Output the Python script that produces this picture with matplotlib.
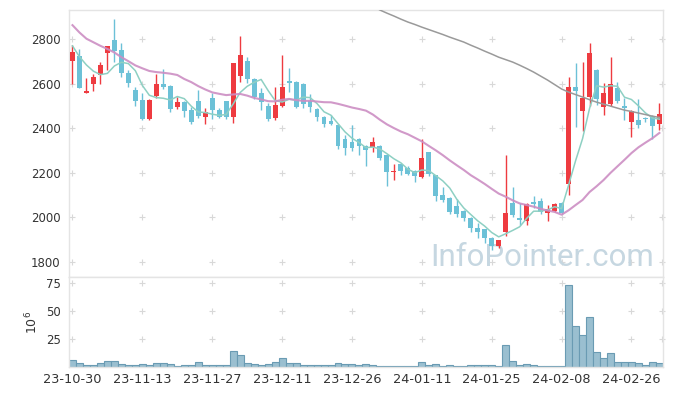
import matplotlib
matplotlib.use("Agg")
import matplotlib.pyplot as plt
import numpy as np
import pandas as pd

# daily candles, price in KRW
opens = [2704, 2725, 2560, 2599, 2640, 2737, 2797, 2752, 2647, 2572,
         2527, 2440, 2547, 2599, 2590, 2497, 2518, 2482, 2523, 2452,
         2538, 2482, 2523, 2452, 2636, 2702, 2622, 2557, 2500, 2445,
         2502, 2613, 2610, 2600, 2525, 2487, 2452, 2433, 2415, 2352,
         2340, 2352, 2322, 2315, 2320, 2280, 2202, 2238, 2223, 2208,
         2183, 2292, 2190, 2100, 2088, 2051, 2030, 1996, 1953, 1946,
         1908, 1872, 1935, 2066, 1998, 1985, 2070, 2075, 2018, 2030,
         2066, 2150, 2587, 2479, 2542, 2662, 2497, 2509, 2580, 2500,
         2430, 2437, 2445, 2455, 2419]
highs = [2774, 2755, 2627, 2643, 2699, 2772, 2890, 2783, 2662, 2584,
         2557, 2530, 2643, 2665, 2595, 2539, 2525, 2495, 2572, 2490,
         2557, 2490, 2523, 2695, 2816, 2722, 2625, 2580, 2512, 2587,
         2732, 2670, 2612, 2605, 2554, 2490, 2455, 2460, 2418, 2370,
         2415, 2355, 2325, 2362, 2325, 2283, 2238, 2242, 2230, 2212,
         2351, 2295, 2192, 2138, 2092, 2082, 2035, 2000, 1973, 1950,
         1912, 1900, 2280, 2135, 2066, 2066, 2096, 2085, 2055, 2065,
         2070, 2629, 2692, 2699, 2782, 2665, 2605, 2722, 2609, 2535,
         2482, 2530, 2450, 2458, 2515]
lows = [2600, 2582, 2557, 2568, 2600, 2662, 2698, 2633, 2584, 2500,
        2437, 2437, 2535, 2575, 2475, 2485, 2449, 2418, 2445, 2418,
        2442, 2445, 2442, 2423, 2607, 2602, 2532, 2482, 2433, 2437,
        2497, 2565, 2490, 2490, 2475, 2433, 2407, 2415, 2307, 2280,
        2298, 2280, 2232, 2295, 2258, 2141, 2168, 2190, 2190, 2157,
        2175, 2185, 2073, 2067, 2015, 2000, 1982, 1936, 1906, 1883,
        1853, 1862, 1916, 2000, 1966, 1966, 2043, 2015, 1985, 2025,
        2015, 2100, 2407, 2389, 2500, 2505, 2460, 2500, 2515, 2437,
        2360, 2400, 2428, 2351, 2392]
closes = [2742, 2582, 2568, 2632, 2684, 2770, 2749, 2651, 2602, 2524,
          2440, 2527, 2599, 2587, 2485, 2518, 2479, 2430, 2457, 2472,
          2481, 2452, 2452, 2692, 2729, 2620, 2542, 2517, 2442, 2505,
          2586, 2604, 2497, 2510, 2495, 2452, 2419, 2419, 2322, 2310,
          2310, 2322, 2302, 2337, 2265, 2205, 2208, 2210, 2195, 2187,
          2265, 2193, 2097, 2078, 2025, 2015, 1996, 1951, 1935, 1906,
          1872, 1898, 2021, 2010, 1988, 2060, 2060, 2022, 2037, 2060,
          2018, 2587, 2569, 2535, 2737, 2530, 2557, 2599, 2524, 2491,
          2478, 2415, 2440, 2410, 2464]
# volume, millions of shares
volumes = [6.5, 3.6, 1.8, 1.8, 3.6, 5.4, 5.4, 2.7, 1.8, 1.8,
           2.7, 1.8, 3.6, 3.6, 2.7, 0.6, 1.8, 1.8, 4.5, 1.8,
           1.8, 1.8, 1.8, 14.3, 10.7, 3.6, 2.7, 1.8, 2.7, 4.5,
           8.0, 3.6, 3.6, 1.8, 1.8, 1.8, 1.8, 1.8, 3.6, 2.7,
           2.7, 1.8, 2.7, 1.8, 0.9, 0.6, 0.6, 0.6, 0.6, 0.6,
           4.5, 1.8, 2.7, 0.6, 1.8, 0.6, 0.6, 1.8, 1.8, 1.8,
           1.8, 0.9, 19.6, 5.4, 1.8, 2.7, 1.8, 0.6, 0.6, 0.6,
           0.6, 72.6, 36.3, 28.6, 44.6, 13.7, 8.0, 12.5, 4.5, 4.5,
           4.5, 3.6, 1.8, 4.5, 3.6]

# moving averages before the window starts need earlier data ->
ma5_head = [2771, 2722, 2685, 2657]
ma20_head = [2864, 2831, 2803, 2787, 2771, 2757, 2741, 2720, 2702, 2683,
             2670, 2658, 2653, 2650, 2646, 2640, 2622, 2608, 2590]
ma120_start = 43
ma120_tail = [2950, 2932, 2918, 2905, 2891, 2878, 2867, 2855, 2844, 2833,
              2822, 2810, 2799, 2788, 2774, 2761, 2747, 2734, 2720, 2709,
              2698, 2684, 2669, 2653, 2635, 2617, 2597, 2577, 2563, 2552,
              2541, 2529, 2518, 2509, 2500, 2491, 2482, 2476, 2469, 2462,
              2455, 2449]

tick_labels = ["23-10-30", "23-11-13", "23-11-27", "23-12-11", "23-12-26",
               "24-01-11", "24-01-25", "24-02-08", "24-02-26"]
price_ticks = [1800, 2000, 2200, 2400, 2600, 2800]
vol_ticks = [25, 50, 75]

RED = "#EE3B40"
BLUE = "#6CC1D7"
GRID = "#D8D8D8"
EDGE = "#E4E4E4"


def style(ax):
    for s in ax.spines.values():
        s.set_color(EDGE)
        s.set_linewidth(1.0)
    ax.tick_params(length=0, colors="#333333", labelsize=8.5, pad=6)


def plus_grid(ax, xs, ys, xmax):
    gx, gy = np.meshgrid(list(xs) + [xmax], ys)
    ax.plot(gx.ravel(), gy.ravel(), linestyle="none", marker="+", ms=5,
            mew=0.8, color=GRID, zorder=0.5, clip_on=False)


def main():
    n = len(closes)
    x = np.arange(n)
    o = np.array(opens, float)
    h = np.array(highs, float)
    l = np.array(lows, float)
    c = np.array(closes, float)

    s = pd.Series(c)
    ma5 = s.rolling(5).mean().to_numpy()
    ma5[:len(ma5_head)] = ma5_head
    ma20 = s.rolling(20).mean().to_numpy()
    ma20[:len(ma20_head)] = ma20_head
    ma120 = np.full(n, np.nan)
    ma120[ma120_start:ma120_start + len(ma120_tail)] = ma120_tail

    fig = plt.figure(figsize=(6.73, 3.96), dpi=100)
    ax0 = fig.add_axes([0.1025, 0.3005, 0.8825, 0.6742])
    ax1 = fig.add_axes([0.1025, 0.0732, 0.8825, 0.2263], sharex=ax0)

    xticks = x[::10]
    xlo, xhi = -0.5, n - 0.5

    # price panel
    up = c >= o
    colors = np.where(up, RED, BLUE)
    ax0.vlines(x, l, h, colors=colors, lw=1.0, zorder=2)
    body_h = np.maximum(np.abs(c - o), 4)
    ax0.bar(x, body_h, bottom=np.minimum(o, c), width=0.7, color=colors,
            zorder=3, linewidth=0)

    ax0.plot(x, ma5, color="#8ED0C3", lw=1.1, zorder=4)
    ax0.plot(x, ma20, color="#CC8EC3", lw=1.5, alpha=0.9, zorder=4)
    ax0.plot(x, ma120, color="#9A9A9A", lw=1.1, zorder=4)

    ax0.text(0.985, 0.02, "InfoPointer.com", transform=ax0.transAxes,
             ha="right", va="bottom", fontsize=22.5, color="#C6D7E1",
             family="Roboto", zorder=1)

    ax0.set_xlim(xlo, xhi)
    ax0.set_ylim(1732, 2932)
    ax0.set_yticks(price_ticks)
    plus_grid(ax0, xticks, price_ticks, xhi - 0.2)
    style(ax0)
    ax0.tick_params(axis="x", labelbottom=False)

    # volume panel
    ax1.bar(x, volumes, width=1.0, color="#9ABFD0", edgecolor="#6A9BB3",
            linewidth=0.8, zorder=2)
    ax1.set_ylim(0, 79.7)
    ax1.set_yticks(vol_ticks)
    plus_grid(ax1, xticks, vol_ticks, xhi - 0.2)
    ax1.set_xticks(xticks)
    ax1.set_xticklabels(tick_labels)
    ax1.set_ylabel("$10^6$", fontsize=9, color="#333333", labelpad=4)
    style(ax1)
    ax1.tick_params(axis="x", pad=4, labelsize=9.3)

    fig.savefig("out.png", dpi=100, facecolor="white")


if __name__ == "__main__":
    main()
